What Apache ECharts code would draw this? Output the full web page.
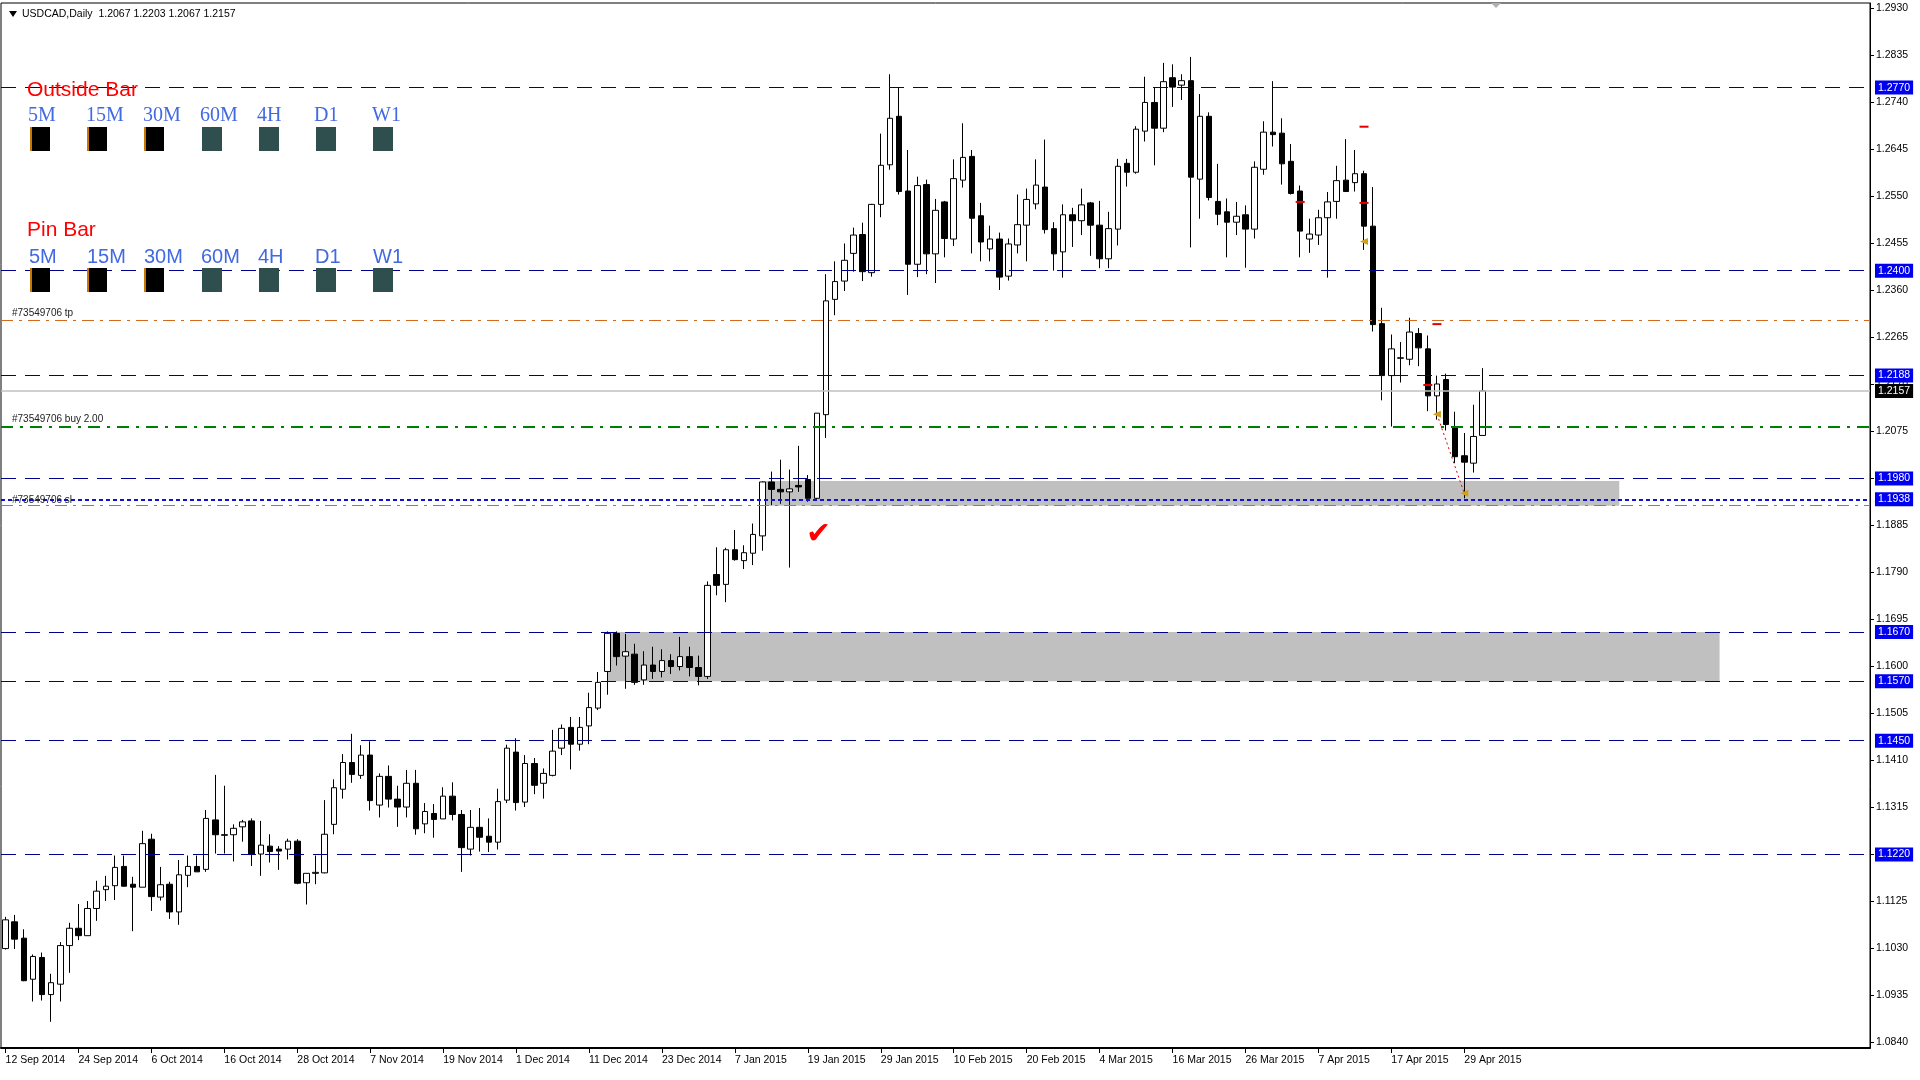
<!DOCTYPE html>
<html>
<head>
<meta charset="utf-8">
<title>USDCAD Daily</title>
<script src="https://cdn.jsdelivr.net/npm/echarts@6.0.0/dist/echarts.min.js"></script>
<style>
  html, body { margin: 0; padding: 0; background: #fff; }
  #chart { width: 1920px; height: 1080px; }
</style>
</head>
<body>
<div id="chart"></div>
<script>
// daily bars, 12 Sep 2014 .. 1 May 2015
const dates = [
  '12 Sep 2014','15 Sep 2014','16 Sep 2014','17 Sep 2014','18 Sep 2014','19 Sep 2014','22 Sep 2014','23 Sep 2014','24 Sep 2014','25 Sep 2014','26 Sep 2014','29 Sep 2014','30 Sep 2014',
  '1 Oct 2014','2 Oct 2014','3 Oct 2014','6 Oct 2014','7 Oct 2014','8 Oct 2014','9 Oct 2014','10 Oct 2014','13 Oct 2014','14 Oct 2014','15 Oct 2014','16 Oct 2014','17 Oct 2014','20 Oct 2014','21 Oct 2014','22 Oct 2014','23 Oct 2014','24 Oct 2014','27 Oct 2014','28 Oct 2014','29 Oct 2014','30 Oct 2014','31 Oct 2014',
  '3 Nov 2014','4 Nov 2014','5 Nov 2014','6 Nov 2014','7 Nov 2014','10 Nov 2014','11 Nov 2014','12 Nov 2014','13 Nov 2014','14 Nov 2014','17 Nov 2014','18 Nov 2014','19 Nov 2014','20 Nov 2014','21 Nov 2014','24 Nov 2014','25 Nov 2014','26 Nov 2014','27 Nov 2014','28 Nov 2014',
  '1 Dec 2014','2 Dec 2014','3 Dec 2014','4 Dec 2014','5 Dec 2014','8 Dec 2014','9 Dec 2014','10 Dec 2014','11 Dec 2014','12 Dec 2014','15 Dec 2014','16 Dec 2014','17 Dec 2014','18 Dec 2014','19 Dec 2014','22 Dec 2014','23 Dec 2014','24 Dec 2014','29 Dec 2014','30 Dec 2014','31 Dec 2014',
  '2 Jan 2015','5 Jan 2015','6 Jan 2015','7 Jan 2015','8 Jan 2015','9 Jan 2015','12 Jan 2015','13 Jan 2015','14 Jan 2015','15 Jan 2015','16 Jan 2015','19 Jan 2015','20 Jan 2015','21 Jan 2015','22 Jan 2015','23 Jan 2015','26 Jan 2015','27 Jan 2015','28 Jan 2015','29 Jan 2015','30 Jan 2015',
  '2 Feb 2015','3 Feb 2015','4 Feb 2015','5 Feb 2015','6 Feb 2015','9 Feb 2015','10 Feb 2015','11 Feb 2015','12 Feb 2015','13 Feb 2015','16 Feb 2015','17 Feb 2015','18 Feb 2015','19 Feb 2015','20 Feb 2015','23 Feb 2015','24 Feb 2015','25 Feb 2015','26 Feb 2015','27 Feb 2015',
  '2 Mar 2015','3 Mar 2015','4 Mar 2015','5 Mar 2015','6 Mar 2015','9 Mar 2015','10 Mar 2015','11 Mar 2015','12 Mar 2015','13 Mar 2015','16 Mar 2015','17 Mar 2015','18 Mar 2015','19 Mar 2015','20 Mar 2015','23 Mar 2015','24 Mar 2015','25 Mar 2015','26 Mar 2015','27 Mar 2015','30 Mar 2015','31 Mar 2015',
  '1 Apr 2015','2 Apr 2015','3 Apr 2015','6 Apr 2015','7 Apr 2015','8 Apr 2015','9 Apr 2015','10 Apr 2015','13 Apr 2015','14 Apr 2015','15 Apr 2015','16 Apr 2015','17 Apr 2015','20 Apr 2015','21 Apr 2015','22 Apr 2015','23 Apr 2015','24 Apr 2015','27 Apr 2015','28 Apr 2015','29 Apr 2015','30 Apr 2015',
  '1 May 2015'
];

const openP = [
  1.1030,1.1084,1.1051,1.0968,1.1012,1.0937,1.0958,1.1036,1.1071,1.1056,1.1111,1.1149,1.1157,
  1.1196,1.1160,1.1154,1.1251,1.1134,1.1160,1.1104,1.1178,1.1196,1.1190,1.1290,1.1260,1.1260,1.1276,1.1288,1.1221,1.1237,1.1231,1.1231,1.1247,1.1163,1.1182,1.1183,
  1.1281,1.1352,1.1406,1.1380,1.1421,1.1320,1.1378,1.1332,1.1316,1.1364,1.1282,1.1303,1.1292,1.1338,1.1301,1.1231,1.1275,1.1257,1.1245,1.1330,
  1.1427,1.1326,1.1404,1.1364,1.1380,1.1435,1.1477,1.1443,1.1480,1.1516,1.1590,1.1667,1.1621,1.1625,1.1573,1.1603,1.1590,1.1612,1.1600,1.1620,1.1598,
  1.1580,1.1786,1.1766,1.1836,1.1814,1.1829,1.1864,1.1973,1.1958,1.1953,1.1966,1.1978,1.1940,1.2109,1.2342,1.2379,1.2435,1.2473,1.2396,1.2534,1.2614,
  1.2712,1.2561,1.2413,1.2574,1.2434,1.2539,1.2464,1.2583,1.2631,1.2511,1.2444,1.2464,1.2389,1.2452,1.2492,1.2535,1.2569,1.2485,1.2438,1.2513,
  1.2501,1.2537,1.2492,1.2424,1.2484,1.2617,1.2599,1.2682,1.2740,1.2688,1.2790,1.2775,1.2784,1.2585,1.2712,1.2540,1.2519,1.2498,1.2513,1.2484,1.2605,1.2680,
  1.2678,1.2621,1.2561,1.2464,1.2472,1.2507,1.2540,1.2583,1.2578,1.2596,1.2490,1.2293,1.2188,1.2223,1.2221,1.2273,1.2242,1.2147,1.2180,1.2085,1.2026,1.2011,
  1.2067
];
const highP = [
  1.1094,1.1098,1.1069,1.1018,1.1022,1.0979,1.1043,1.1082,1.1120,1.1126,1.1167,1.1177,1.1218,
  1.1218,1.1175,1.1268,1.1262,1.1195,1.1165,1.1209,1.1218,1.1218,1.1310,1.1381,1.1359,1.1281,1.1290,1.1293,1.1288,1.1261,1.1237,1.1252,1.1251,1.1182,1.1218,1.1330,
  1.1372,1.1423,1.1464,1.1441,1.1449,1.1384,1.1400,1.1359,1.1391,1.1391,1.1324,1.1322,1.1356,1.1366,1.1310,1.1310,1.1314,1.1293,1.1353,1.1442,
  1.1455,1.1421,1.1415,1.1394,1.1472,1.1483,1.1498,1.1498,1.1547,1.1589,1.1671,1.1671,1.1666,1.1646,1.1631,1.1640,1.1635,1.1625,1.1660,1.1640,1.1622,
  1.1772,1.1841,1.1840,1.1876,1.1845,1.1889,1.1974,1.1994,1.2018,1.1998,1.2046,1.1987,1.2112,1.2393,1.2419,1.2455,1.2487,1.2497,1.2535,1.2677,1.2797,
  1.2770,1.2644,1.2590,1.2584,1.2545,1.2541,1.2625,1.2698,1.2644,1.2537,1.2491,1.2477,1.2465,1.2554,1.2566,1.2625,1.2665,1.2498,1.2534,1.2527,
  1.2566,1.2539,1.2541,1.2519,1.2626,1.2626,1.2692,1.2792,1.2770,1.2820,1.2817,1.2797,1.2832,1.2757,1.2720,1.2616,1.2546,1.2539,1.2532,1.2621,1.2702,1.2783,
  1.2708,1.2656,1.2572,1.2505,1.2523,1.2559,1.2612,1.2666,1.2644,1.2602,1.2569,1.2325,1.2271,1.2256,1.2305,1.2284,1.2269,1.2188,1.2192,1.2115,1.2072,1.2129,
  1.2203
];
const lowP = [
  1.1028,1.1029,1.0964,1.0923,1.0925,1.0882,1.0923,1.0981,1.1047,1.1056,1.1086,1.1126,1.1128,
  1.1155,1.1065,1.1154,1.1106,1.1127,1.1090,1.1078,1.1154,1.1185,1.1185,1.1222,1.1222,1.1206,1.1246,1.1197,1.1177,1.1204,1.1189,1.1210,1.1160,1.1119,1.1160,1.1182,
  1.1261,1.1333,1.1365,1.1373,1.1309,1.1295,1.1315,1.1276,1.1295,1.1260,1.1263,1.1254,1.1292,1.1289,1.1185,1.1218,1.1226,1.1225,1.1230,1.1324,
  1.1309,1.1316,1.1342,1.1333,1.1378,1.1421,1.1392,1.1430,1.1443,1.1512,1.1543,1.1602,1.1555,1.1563,1.1563,1.1575,1.1578,1.1585,1.1592,1.1580,1.1562,
  1.1575,1.1744,1.1730,1.1814,1.1797,1.1805,1.1834,1.1926,1.1929,1.1800,1.1953,1.1933,1.1938,1.2062,1.2310,1.2359,1.2398,1.2379,1.2388,1.2508,1.2604,
  1.2554,1.2351,1.2387,1.2393,1.2375,1.2427,1.2450,1.2568,1.2435,1.2419,1.2419,1.2361,1.2380,1.2435,1.2419,1.2524,1.2475,1.2400,1.2386,1.2448,
  1.2472,1.2430,1.2405,1.2405,1.2451,1.2570,1.2596,1.2661,1.2613,1.2680,1.2731,1.2745,1.2447,1.2505,1.2542,1.2492,1.2427,1.2472,1.2406,1.2465,1.2594,1.2651,
  1.2574,1.2554,1.2427,1.2436,1.2452,1.2386,1.2505,1.2560,1.2560,1.2442,1.2277,1.2138,1.2085,1.2174,1.2209,1.2207,1.2116,1.2099,1.2077,1.2011,1.1940,1.1992,
  1.2067
];
const closeP = [
  1.1088,1.1049,1.0965,1.1014,1.0937,1.0961,1.1036,1.1071,1.1056,1.1111,1.1146,1.1156,1.1194,
  1.1156,1.1154,1.1242,1.1135,1.1159,1.1104,1.1179,1.1196,1.1185,1.1293,1.1260,1.1259,1.1273,1.1286,1.1220,1.1239,1.1226,1.1227,1.1247,1.1162,1.1182,1.1184,1.1261,
  1.1355,1.1406,1.1382,1.1421,1.1329,1.1378,1.1332,1.1316,1.1364,1.1272,1.1307,1.1291,1.1338,1.1301,1.1234,1.1275,1.1255,1.1245,1.1327,1.1435,
  1.1325,1.1404,1.1360,1.1384,1.1429,1.1475,1.1443,1.1477,1.1517,1.1568,1.1667,1.1620,1.1630,1.1568,1.1603,1.1590,1.1612,1.1600,1.1620,1.1598,1.1580,
  1.1764,1.1764,1.1836,1.1816,1.1830,1.1867,1.1973,1.1958,1.1953,1.1959,1.1963,1.1940,1.2112,1.2339,1.2378,1.2421,1.2472,1.2398,1.2534,1.2613,1.2708,
  1.2560,1.2413,1.2572,1.2434,1.2522,1.2465,1.2586,1.2629,1.2506,1.2458,1.2464,1.2387,1.2454,1.2493,1.2544,1.2573,1.2483,1.2434,1.2513,1.2501,
  1.2533,1.2492,1.2424,1.2485,1.2611,1.2599,1.2686,1.2740,1.2688,1.2782,1.2771,1.2784,1.2589,1.2712,1.2548,1.2514,1.2498,1.2510,1.2484,1.2609,1.2680,1.2675,
  1.2616,1.2556,1.2480,1.2474,1.2507,1.2539,1.2582,1.2560,1.2596,1.2490,1.2291,1.2188,1.2242,1.2224,1.2276,1.2244,1.2147,1.2171,1.2089,1.2024,1.2013,1.2065,
  1.2157
];

// right price scale labels
const priceTicks = [1.0840,1.0935,1.1030,1.1125,1.1220,1.1315,1.1410,1.1505,1.1600,1.1695,1.1790,1.1885,
  1.1980,1.2075,1.2170,1.2265,1.2360,1.2455,1.2550,1.2645,1.2740,1.2835,1.2930];

// horizontal levels
const levelPrices = [1.2770,1.2400,1.2188,1.1980,1.1670,1.1570,1.1450,1.1220];
const lastPrice = 1.2157;
const tpPrice = 1.2300;
const buyPrice = 1.2085;
const slPrice = 1.1938;
const lowOrangePrice = 1.1925;

// grey zones: [startBar, endBar, top, bottom]
const zoneUpper = [83, 177, 1.1975, 1.1925];
const zoneLower = [66, 188, 1.1670, 1.1570];

// trade arrows on chart: [bar, price]
const redMarks = [[149, 1.2691], [142, 1.2539], [149, 1.2537], [156, 1.2169], [157, 1.2292]];
const orangeMarks = [[157, 1.2110], [160, 1.1950], [149, 1.2459]];
const tradeLine = [[157, 1.2110], [160, 1.1950]];

const EMPTY_BARS = 42;
const axisDates = dates.concat(new Array(EMPTY_BARS).fill(''));
const candles = dates.map((d, i) => [openP[i], closeP[i], lowP[i], highP[i]]);

const font = 'Liberation Sans, Arial, sans-serif';
const levelColor = '#000090';

const showDate = (idx, val) => val !== '' && idx % 8 === 0;

const boxLabel = (txt, bg) => ({
  show: true, position: 'end', distance: 5,
  formatter: txt,
  color: '#fff', backgroundColor: bg,
  padding: [2, 3, 1, 3], fontSize: 10.5, fontFamily: font
});

const levelMarks = levelPrices.map(p => ({
  yAxis: p,
  lineStyle: { color: levelColor, type: [15, 9], width: 1 },
  label: boxLabel(p.toFixed(4), '#0000f0')
}));
levelMarks.push(
  { yAxis: lastPrice, lineStyle: { color: '#c0c0c0', type: 'solid', width: 1.5 }, label: boxLabel(lastPrice.toFixed(4), '#000') },
  { yAxis: tpPrice, lineStyle: { color: '#d2691e', type: [12, 6, 3, 6], width: 1 }, label: { show: false } },
  { yAxis: lowOrangePrice, lineStyle: { color: '#d2691e', type: [12, 6, 3, 6], width: 1 }, label: { show: false } },
  { yAxis: buyPrice, lineStyle: { color: '#008000', type: [12, 7, 3, 7], width: 2 }, label: { show: false } },
  { yAxis: slPrice, lineStyle: { color: '#1010d0', type: [4, 3], width: 2 }, label: boxLabel(slPrice.toFixed(4), '#0000f0') }
);

const zoneStyle = { color: '#c0c0c0', opacity: 1 };

// top-left panel texts and squares
const tfLabels = ['5M', '15M', '30M', '60M', '4H', 'D1', 'W1'];
const tfX = [28, 86, 143, 200, 257, 314, 372];
const sqX = [30, 87, 144, 202, 259, 316, 373];
const graphics = [];
graphics.push({ type: 'polygon', z: 20, shape: { points: [[9, 11], [17, 11], [13, 17]] }, style: { fill: '#000' } });
graphics.push({ type: 'text', z: 20, x: 22, y: 14,
  style: { text: 'USDCAD,Daily  1.2067 1.2203 1.2067 1.2157', fill: '#000', font: '10.5px ' + font, verticalAlign: 'middle' } });
graphics.push({ type: 'text', z: 20, x: 27, y: 90,
  style: { text: 'Outside Bar', fill: '#ff0000', font: '21px ' + font, verticalAlign: 'middle' } });
graphics.push({ type: 'text', z: 20, x: 27, y: 230,
  style: { text: 'Pin Bar', fill: '#ff0000', font: '21px ' + font, verticalAlign: 'middle' } });
tfLabels.forEach((t, k) => {
  graphics.push({ type: 'text', z: 20, x: tfX[k], y: 116,
    style: { text: t, fill: '#4169e1', font: '20px Liberation Serif, Times New Roman, serif', verticalAlign: 'middle' } });
  graphics.push({ type: 'text', z: 20, x: tfX[k] + 1, y: 257,
    style: { text: t, fill: '#4169e1', font: '20px ' + font, verticalAlign: 'middle' } });
  [127, 268].forEach(top => {
    const dark = k < 3;
    graphics.push({ type: 'rect', z: 20, shape: { x: sqX[k], y: top, width: 20, height: 24 },
      style: { fill: dark ? '#000' : '#2f4f4f' } });
    if (dark) {
      graphics.push({ type: 'rect', z: 21, shape: { x: sqX[k], y: top, width: 2, height: 24 }, style: { fill: '#c87800' } });
    }
  });
});
graphics.push({ type: 'text', z: 20, x: 12, y: 313,
  style: { text: '#73549706 tp', fill: '#222', font: '10px ' + font, verticalAlign: 'middle' } });
graphics.push({ type: 'text', z: 20, x: 12, y: 419,
  style: { text: '#73549706 buy 2.00', fill: '#222', font: '10px ' + font, verticalAlign: 'middle' } });
graphics.push({ type: 'text', z: 20, x: 12, y: 500,
  style: { text: '#73549706 sl', fill: '#222', font: '10px ' + font, verticalAlign: 'middle' } });
graphics.push({ type: 'text', z: 20, x: 806, y: 520,
  style: { text: '\u2714', fill: '#ff0000', font: '30px DejaVu Sans, sans-serif' } });
graphics.push({ type: 'polygon', z: 20, shape: { points: [[1491, 3], [1501, 3], [1496, 8]] }, style: { fill: '#b0b0b0' } });

const chart = echarts.init(document.getElementById('chart'));
chart.setOption({
  animation: false,
  backgroundColor: '#fff',
  grid: { left: 1, right: 50, top: 3, bottom: 32, show: true, borderColor: '#000', borderWidth: 1, backgroundColor: '#fff' },
  xAxis: {
    type: 'category',
    data: axisDates,
    boundaryGap: true,
    axisLine: { show: true, lineStyle: { color: '#000', width: 2 } },
    axisTick: { show: true, alignWithLabel: true, interval: showDate, length: 5, lineStyle: { color: '#000' } },
    axisLabel: { interval: showDate, align: 'left', color: '#000', fontSize: 10.5, fontFamily: font, margin: 7 },
    splitLine: { show: false }
  },
  yAxis: {
    type: 'value',
    position: 'right',
    min: 1.0829,
    max: 1.2941,
    axisLine: { show: true, lineStyle: { color: '#000', width: 1 } },
    axisTick: { show: true, customValues: priceTicks, length: 4, lineStyle: { color: '#000' } },
    axisLabel: { customValues: priceTicks, formatter: v => v.toFixed(4), color: '#000', fontSize: 10.5, fontFamily: font, margin: 6 },
    splitLine: { show: false }
  },
  series: [
    {
      name: 'levels',
      type: 'line',
      data: [],
      z: 1,
      silent: true,
      markArea: {
        silent: true,
        precision: 4,
        itemStyle: zoneStyle,
        data: [
          [{ coord: [zoneLower[0], zoneLower[2]] }, { coord: [zoneLower[1], zoneLower[3]] }],
          [{ coord: [zoneUpper[0], zoneUpper[2]] }, { coord: [zoneUpper[1], zoneUpper[3]] }]
        ]
      },
      markLine: {
        silent: true,
        precision: 4,
        symbol: ['none', 'none'],
        data: levelMarks
      }
    },
    {
      name: 'USDCAD',
      type: 'candlestick',
      data: candles,
      z: 3,
      barWidth: 6,
      clip: false,
      itemStyle: { color: '#ffffff', color0: '#000000', borderColor: '#000000', borderColor0: '#000000', borderWidth: 1 }
    },
    {
      name: 'trades',
      type: 'line',
      data: [],
      z: 5,
      silent: true,
      markLine: {
        silent: true,
        precision: 4,
        symbol: ['none', 'none'],
        lineStyle: { color: '#e00000', type: [2, 3], width: 1 },
        label: { show: false },
        data: [[{ coord: tradeLine[0] }, { coord: tradeLine[1] }]]
      },
      markPoint: {
        silent: true,
        precision: 4,
        label: { show: false },
        data: redMarks.map(m => ({ coord: m, symbol: 'rect', symbolSize: [9, 2], itemStyle: { color: '#e00000' } }))
          .concat(orangeMarks.map(m => ({ coord: m, symbol: 'triangle', symbolRotate: 90, symbolSize: [7, 8], itemStyle: { color: '#d4a017' } })))
      }
    }
  ],
  graphic: { elements: graphics }
});
</script>
</body>
</html>
